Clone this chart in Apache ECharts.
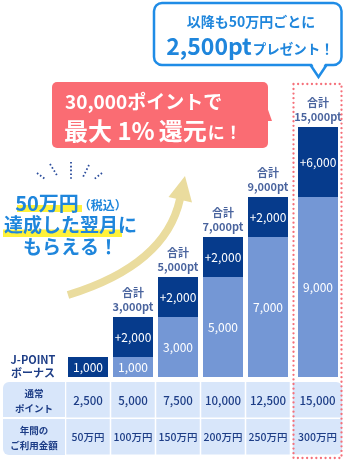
<!DOCTYPE html>
<html><head><meta charset="utf-8">
<script src="https://cdn.jsdelivr.net/npm/echarts@6/dist/echarts.min.js"></script>
<style>html,body{margin:0;padding:0;background:#fff}#c{width:344px;height:460px}</style>
</head><body><div id="c"></div>
<script>
// ---- data ----
const categories = ['50万円','100万円','150万円','200万円','250万円','300万円'];
const basePoints = [0, 1000, 3000, 5000, 7000, 9000];
const bonusPoints = [1000, 2000, 2000, 2000, 2000, 6000];
const showTotal = [false, true, true, true, true, true];
const regularPoints = ['2,500','5,000','7,500','10,000','12,500','15,000'];
const spendLabels = ['50万円','100万円','150万円','200万円','250万円','300万円'];
const rowHeaders = ['通常\nポイント', '年間の\nご利用金額'];
const bonusTitle = ['J-POINT', 'ボーナス'];

// ---- style ----
const FF = "'Noto Sans CJK JP','Noto Sans',sans-serif";
const DARK = '#063b8c', LIGHT = '#7497d5', NAVY = '#1d3d86', BLUE = '#1f86dc';
const CELL = '#d8e6fa', PINK = '#f5707a', CORAL = '#fa6c73', BEIGE = '#eadc9e';

const fmt = v => v.toLocaleString('en-US');
const totals = basePoints.map((b, i) => b + bonusPoints[i]);

function barSeries(ai, from, to) {
  const idx = []; for (let i = from; i < to; i++) idx.push(i);
  const lab = { show: true, position: 'inside', color: '#fff', fontSize: 12, fontFamily: FF };
  return [
    { type: 'bar', xAxisIndex: ai, yAxisIndex: ai, stack: 's' + ai, barWidth: 40, silent: true,
      data: idx.map(i => basePoints[i]), itemStyle: { color: LIGHT },
      label: Object.assign({}, lab, { formatter: p => p.value > 0 ? fmt(p.value) : '' }) },
    { type: 'bar', xAxisIndex: ai, yAxisIndex: ai, stack: 's' + ai, barWidth: 40, silent: true,
      data: idx.map(i => bonusPoints[i]), itemStyle: { color: DARK },
      label: Object.assign({}, lab, { formatter: p => (basePoints[idx[p.dataIndex]] > 0 ? '+' : '') + fmt(p.value) }) },
    { type: 'scatter', xAxisIndex: ai, yAxisIndex: ai, silent: true, symbolSize: 1,
      data: idx.map(i => totals[i]), itemStyle: { color: 'rgba(0,0,0,0)' },
      label: { show: true, position: 'top', distance: 3, color: NAVY, fontSize: 11, fontWeight: 'bold',
        lineHeight: 14, fontFamily: FF,
        formatter: p => showTotal[idx[p.dataIndex]] ? '合計\n' + fmt(p.value) + 'pt' : '' } }
  ];
}

function cellSeries(ai, from, to, last) {
  const data = [];
  for (let i = from; i < to; i++) { data.push([i - from, 0]); data.push([i - from, 1]); }
  return {
    type: 'custom', xAxisIndex: ai, yAxisIndex: ai, silent: true, data,
    renderItem(params, api) {
      const xi = api.value(0), yi = api.value(1);
      const c = api.coord([xi, yi]);
      const s = api.size([1, 1]);
      const col = from + xi;
      const text = yi === 0 ? regularPoints[col] : spendLabels[col];
      let r = 0;
      if (last) r = yi === 0 ? [0, 6, 0, 0] : [0, 0, 6, 0];
      return { type: 'group', children: [
        { type: 'rect', shape: { x: c[0] - s[0] / 2 + 0.75, y: c[1] - s[1] / 2 + 0.75, width: s[0] - 1.5, height: s[1] - 1.5, r },
          style: { fill: CELL } },
        { type: 'text', x: c[0], y: c[1] + 0.5, style: { text, align: 'center', verticalAlign: 'middle',
          fill: NAVY, font: '500 ' + (yi === 0 ? 11.5 : 10.5) + 'px ' + FF } }
      ] };
    }
  };
}

const option = {
  animation: false,
  grid: [
    { left: 65.5, top: 177, width: 225, height: 200 },
    { left: 296, top: 127, width: 44, height: 250 },
    { left: 65.5, top: 381.25, width: 225, height: 74 },
    { left: 292, top: 381.25, width: 51, height: 74 }
  ],
  xAxis: [
    { gridIndex: 0, type: 'category', data: categories.slice(0, 5), show: false },
    { gridIndex: 1, type: 'category', data: categories.slice(5), show: false },
    { gridIndex: 2, type: 'category', data: categories.slice(0, 5), show: false },
    { gridIndex: 3, type: 'category', data: categories.slice(5), show: false }
  ],
  yAxis: [
    { gridIndex: 0, type: 'value', min: 0, max: 10000, show: false },
    { gridIndex: 1, type: 'value', min: 0, max: 15000, show: false,
      breaks: [{ start: 10000, end: 14000, gap: 1500 }], breakArea: { show: false } },
    { gridIndex: 2, type: 'category', data: rowHeaders, inverse: true, show: false },
    { gridIndex: 3, type: 'category', data: rowHeaders, inverse: true, show: false }
  ],
  series: [].concat(barSeries(0, 0, 5), barSeries(1, 5, 6), [cellSeries(2, 0, 5, false), cellSeries(3, 5, 6, true)]),
  graphic: { elements: [
    // top speech bubble
    { type: 'rect', z: 10, shape: { x: 154, y: 3, width: 187.5, height: 62, r: 8 },
      style: { fill: '#fff', stroke: '#1f8ce6', lineWidth: 2.5 } },
    { type: 'polygon', z: 11, shape: { points: [[311, 62], [326, 62], [318.5, 75]] }, style: { fill: '#fff' } },
    { type: 'polyline', z: 11, shape: { points: [[310.5, 65], [318.5, 77], [326.5, 65]] },
      style: { stroke: '#1f8ce6', lineWidth: 2.5, fill: null } },
    { type: 'text', z: 12, x: 251, y: 22, style: { text: '以降も50万円ごとに', align: 'center', verticalAlign: 'middle',
      fill: BLUE, font: 'bold 14px ' + FF } },
    { type: 'text', z: 12, x: 250, y: 45, style: { text: '{b|2,500pt}{s|プレゼント！}', align: 'center', verticalAlign: 'middle',
      rich: { b: { fontSize: 23, fontWeight: 'bold', fontFamily: FF, fill: BLUE, verticalAlign: 'bottom', lineHeight: 26 },
              s: { fontSize: 13.5, fontWeight: 'bold', fontFamily: FF, fill: BLUE, verticalAlign: 'bottom', lineHeight: 20, padding: [0, 0, 2, 1] } } } },
    // red callout
    { type: 'rect', z: 10, shape: { x: 52, y: 82, width: 216, height: 66, r: 5 }, style: { fill: CORAL } },
    { type: 'polygon', z: 10, shape: { points: [[266, 104], [272, 121], [266, 121]] }, style: { fill: CORAL } },
    { type: 'text', z: 11, x: 65, y: 102, style: { text: '30,000ポイントで', align: 'left', verticalAlign: 'middle',
      fill: '#fff', font: 'bold 19px ' + FF } },
    { type: 'text', z: 11, x: 64, y: 129, style: { text: '{a|最大}{n| 1%}{a|還元}{b|に！}', align: 'left', verticalAlign: 'middle',
      rich: { a: { fontSize: 24, fontFamily: FF, fontWeight: 'bold', fill: '#fff', verticalAlign: 'bottom', lineHeight: 28 },
              n: { fontSize: 24, fontFamily: FF, fontWeight: 'bold', fill: '#fff', verticalAlign: 'bottom', lineHeight: 28, padding: [0, 4, 0, 0] },
              b: { fontSize: 17, fontFamily: FF, fontWeight: 'bold', fill: '#fff', verticalAlign: 'bottom', lineHeight: 22, padding: [0, 0, 2, 1] } } } },
    // rays
    ...[[[37, 173], [45, 179]], [[50, 164], [58, 177]], [[71, 162], [71, 180]], [[89, 165], [83, 177]], [[102, 173], [93, 180]]].map(p => ({
      type: 'line', shape: { x1: p[0][0], y1: p[0][1], x2: p[1][0], y2: p[1][1] },
      style: { stroke: '#2a4c9c', lineWidth: 1.8, lineDash: [1.6, 2.2] } })),
    // highlights
    { type: 'rect', shape: { x: 17, y: 205, width: 65, height: 7 }, style: { fill: '#fff23a' } },
    { type: 'rect', shape: { x: 3, y: 229.5, width: 119, height: 7.5 }, style: { fill: '#fff23a' } },
    { type: 'text', z: 5, x: 71, y: 201, style: { text: '{a|50万円}{b|（税込）}', align: 'center', verticalAlign: 'middle',
      rich: { a: { fontSize: 20, fontWeight: 'bold', fontFamily: FF, fill: BLUE, verticalAlign: 'bottom', lineHeight: 24 },
              b: { fontSize: 12, fontWeight: 'bold', fontFamily: FF, fill: BLUE, verticalAlign: 'bottom', lineHeight: 18, padding: [0, 0, 2, 0] } } } },
    { type: 'text', z: 5, x: 70.5, y: 225, style: { text: '達成した翌月に', align: 'center', verticalAlign: 'middle',
      fill: BLUE, font: 'bold 19px ' + FF } },
    { type: 'text', z: 5, x: 70.5, y: 247, style: { text: 'もらえる！', align: 'center', verticalAlign: 'middle',
      fill: BLUE, font: 'bold 19px ' + FF } },
    // arrow
    { type: 'bezierCurve', shape: { x1: 68, y1: 295, cpx1: 130, cpy1: 276, cpx2: 170, cpy2: 245, x2: 180, y2: 199 },
      style: { stroke: BEIGE, lineWidth: 8, fill: null } },
    { type: 'polygon', shape: { points: [[185, 176], [168.5, 197], [192, 202.5]] }, style: { fill: BEIGE } },
    // J-POINT bonus title
    { type: 'text', x: 33, y: 360, style: { text: bonusTitle[0], align: 'center', verticalAlign: 'middle', fill: NAVY, font: 'bold 11px ' + FF } },
    { type: 'text', x: 33, y: 373, style: { text: bonusTitle[1], align: 'center', verticalAlign: 'middle', fill: NAVY, font: 'bold 11px ' + FF } },
    // table header cells
    { type: 'rect', shape: { x: 3, y: 382, width: 62, height: 35, r: [6, 0, 0, 0] }, style: { fill: CELL } },
    { type: 'rect', shape: { x: 3, y: 419, width: 62, height: 36, r: [0, 0, 0, 6] }, style: { fill: CELL } },
    { type: 'text', z: 5, x: 34, y: 400.5, style: { text: rowHeaders[0], align: 'center', verticalAlign: 'middle', lineHeight: 15, fill: NAVY, font: 'bold 9.5px ' + FF } },
    { type: 'text', z: 5, x: 34, y: 437.5, style: { text: rowHeaders[1], align: 'center', verticalAlign: 'middle', lineHeight: 15, fill: NAVY, font: 'bold 9.5px ' + FF } },
    // pink dotted highlight frame
    { type: 'rect', z: 100, shape: { x: 293.5, y: 84, width: 48, height: 374 },
      style: { fill: null, stroke: PINK, lineWidth: 2.3, lineDash: [0.01, 4.6], lineCap: 'round' } }
  ] }
};
const chart = echarts.init(document.getElementById('c'));
chart.setOption(option);
</script></body></html>
